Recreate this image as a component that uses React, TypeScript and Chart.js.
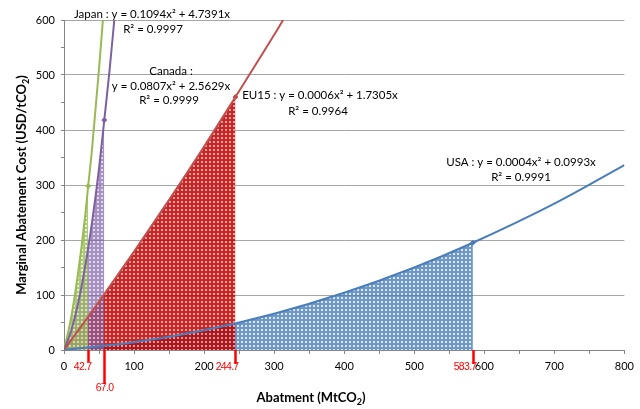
import React, { useEffect, useRef } from 'react';
import { Chart, registerables } from 'chart.js';
Chart.register(...registerables);

// Curves (abatement MtCO2 -> USD/tCO2)
const japanX = [0, 10, 20, 30, 34.5, 40, 50, 56];
const japanY = [0, 58, 139, 241, 298, 365, 511, 608];
const canadaX = [0, 10, 20, 30, 40, 50, 57.5, 65, 72];
const canadaY = [0, 34, 84, 150, 232, 330, 418, 508, 603];
const eu15X = [0, 50, 100, 150, 200, 244.7, 300, 315];
const eu15Y = [0, 88, 179, 273, 370, 460, 573, 605];
const usaX = [0, 100, 200, 300, 400, 500, 583.7, 700, 800];
const usaY = [0, 14, 36, 66, 104, 150, 195, 266, 336];

// Shaded limits (Japan, Canada, EU15, USA) and their red tick labels
const cutoffs = [34.5, 57.5, 244.7, 583.7];
const markLabels = ['42.7', '67.0', '244.7', '583.7'];

const equations = [
  ['Japan : y = 0.1094x² + 4.7391x', 'R² = 0.9997'],
  ['Canada :', 'y = 0.0807x² + 2.5629x', 'R² = 0.9999'],
  ['EU15 : y = 0.0006x² + 1.7305x', 'R² = 0.9964'],
  ['USA : y = 0.0004x² + 0.0993x', 'R² = 0.9991'],
];

const FONT = 'Lato, "Open Sans", "Noto Sans", sans-serif';

const mk = (xs: number[], ys: number[]) => xs.map((x, i) => ({ x, y: ys[i] }));
const upTo = (xs: number[], ys: number[], c: number) => mk(xs, ys).filter((p) => p.x <= c + 1e-9);

function makePattern(base: string, light: string) {
  const c = document.createElement('canvas');
  c.width = 4;
  c.height = 4;
  const g = c.getContext('2d')!;
  g.fillStyle = base;
  g.fillRect(0, 0, 4, 4);
  g.clearRect(1, 1, 2, 2);
  g.fillStyle = light;
  g.fillRect(1, 1, 2, 2);
  return g.createPattern(c, 'repeat')!;
}

function drawSub(ctx: CanvasRenderingContext2D, parts: [string, boolean][], x: number, y: number, size: number) {
  const normal = `bold ${size}px ${FONT}`;
  const small = `bold ${Math.round(size * 0.7)}px ${FONT}`;
  let total = 0;
  for (const [t, s] of parts) {
    ctx.font = s ? small : normal;
    total += ctx.measureText(t).width;
  }
  let cx = x - total / 2;
  ctx.textAlign = 'left';
  for (const [t, s] of parts) {
    ctx.font = s ? small : normal;
    ctx.fillText(t, cx, s ? y + size * 0.3 : y);
    cx += ctx.measureText(t).width;
  }
}

const textPlugin = {
  id: 'textPlugin',
  afterDraw(chart: any) {
    const ctx: any = chart.ctx;
    const xs = chart.scales.x;
    const area = chart.chartArea;
    ctx.save();
    ctx.fillStyle = '#000';
    ctx.font = `11.5px ${FONT}`;
    ctx.textAlign = 'center';
    ctx.textBaseline = 'middle';
    const eqPos = [
      [[152, 14.5], [153, 29]],
      [[171, 71], [171, 86], [169, 100]],
      [[320, 95], [318, 111]],
      [[521, 162.5], [521, 177]],
    ];
    equations.forEach((lines, i) => {
      lines.forEach((t, j) => {
        const [px, py] = eqPos[i][j];
        ctx.fillText(t, px, py);
      });
    });
    // red ticks
    const lens = [12, 34, 14, 14];
    ctx.strokeStyle = '#FF0000';
    ctx.lineWidth = 2.5;
    ctx.fillStyle = '#FF0000';
    ctx.font = `10.5px "Liberation Sans Narrow", "Arial Narrow", "Liberation Sans", sans-serif`;
    try {
      ctx.letterSpacing = '-0.7px';
    } catch (e) {}
    cutoffs.forEach((v, i) => {
      const px = Math.round(xs.getPixelForValue(v)) + 0.5;
      ctx.beginPath();
      ctx.moveTo(px, area.bottom);
      ctx.lineTo(px, area.bottom + lens[i]);
      ctx.stroke();
      if (i === 1) {
        ctx.textAlign = 'center';
        ctx.fillText(markLabels[i], px, area.bottom + 38);
      } else {
        ctx.textAlign = 'right';
        ctx.fillText(markLabels[i], px + 3, area.bottom + 17);
      }
    });
    try {
      ctx.letterSpacing = '0px';
    } catch (e) {}
    ctx.fillStyle = '#000';
    ctx.textBaseline = 'middle';
    drawSub(ctx, [['Abatment (MtCO', false], ['2', true], [')', false]], 311, 398, 13);
    ctx.translate(22, 185);
    ctx.rotate(-Math.PI / 2);
    drawSub(ctx, [['Marginal Abatement Cost (USD/tCO', false], ['2', true], [')', false]], 0, 0, 13);
    ctx.restore();
  },
};

export default function App() {
  const ref = useRef<HTMLCanvasElement>(null);
  useEffect(() => {
    const canvas = ref.current!;
    const green = makePattern('rgba(155,187,89,0.8)', 'rgba(215,232,190,0.6)');
    const purple = makePattern('rgba(128,100,162,0.7)', 'rgba(205,190,228,0.6)');
    const red = makePattern('rgba(192,0,0,0.85)', 'rgba(235,140,140,0.8)');
    const blue = makePattern('rgba(74,126,187,0.8)', 'rgba(200,215,240,0.6)');
    const lineDs = (xs: number[], ys: number[], color: string) => ({
      data: mk(xs, ys),
      borderColor: color,
      borderWidth: 2,
      pointRadius: 0,
      fill: false,
      cubicInterpolationMode: 'monotone',
      order: 1,
    });
    const fillDs = (xs: number[], ys: number[], c: number, pat: CanvasPattern, order: number) => ({
      data: upTo(xs, ys, c),
      borderWidth: 0,
      borderColor: 'rgba(0,0,0,0)',
      backgroundColor: pat,
      pointRadius: 0,
      fill: 'origin',
      cubicInterpolationMode: 'monotone',
      order,
    });
    const markerDs = (xs: number[], ys: number[], c: number, color: string) => ({
      data: mk(xs, ys).filter((p) => Math.abs(p.x - c) < 1e-9),
      showLine: false,
      pointStyle: 'rectRot',
      pointRadius: 2.5,
      pointBackgroundColor: color,
      pointBorderColor: color,
      borderColor: color,
      order: 0,
    });
    const chart = new Chart(canvas, {
      type: 'line',
      data: {
        datasets: [
          fillDs(usaX, usaY, cutoffs[3], blue, 10),
          fillDs(eu15X, eu15Y, cutoffs[2], red, 9),
          fillDs(canadaX, canadaY, cutoffs[1], purple, 8),
          fillDs(japanX, japanY, cutoffs[0], green, 7),
          lineDs(usaX, usaY, '#4A7EBB'),
          lineDs(eu15X, eu15Y, '#C0504D'),
          lineDs(canadaX, canadaY, '#7D60A0'),
          lineDs(japanX, japanY, '#98B954'),
          markerDs(usaX, usaY, cutoffs[3], '#4A7EBB'),
          markerDs(eu15X, eu15Y, cutoffs[2], '#C0504D'),
          markerDs(canadaX, canadaY, cutoffs[1], '#7D60A0'),
          markerDs(japanX, japanY, cutoffs[0], '#98B954'),
        ] as any,
      },
      options: {
        animation: false,
        responsive: false,
        maintainAspectRatio: false,
        layout: { padding: { top: 20, right: 13, left: 0, bottom: 0 } },
        plugins: { legend: { display: false }, tooltip: { enabled: false } },
        scales: {
          x: {
            type: 'linear',
            min: 0,
            max: 800,
            ticks: {
              stepSize: 50,
              autoSkip: false,
              maxRotation: 0,
              padding: 6,
              color: '#000',
              font: { family: FONT, size: 11 },
              callback: (v: any) => (Number(v) % 100 === 0 ? String(v) : ''),
            },
            grid: { drawOnChartArea: false, drawTicks: true, tickLength: 4, tickColor: '#868686' },
            border: { color: '#868686', width: 1 },
            afterFit: (s: any) => {
              s.height = 59;
            },
          },
          y: {
            type: 'linear',
            min: 0,
            max: 600,
            ticks: {
              stepSize: 50,
              autoSkip: false,
              padding: 6,
              color: '#000',
              font: { family: FONT, size: 11 },
              callback: (v: any) => (Number(v) % 100 === 0 ? String(v) : ''),
            },
            grid: {
              color: (c: any) => (c.tick && c.tick.value % 100 === 0 ? '#A6A6A6' : 'rgba(0,0,0,0)'),
              tickColor: '#868686',
              tickLength: 3,
            },
            border: { color: '#868686', width: 1 },
            afterFit: (s: any) => {
              s.width = 64;
            },
          },
        },
      } as any,
      plugins: [textPlugin],
    });
    return () => chart.destroy();
  }, []);
  return (
    <div style={{ position: 'fixed', left: 0, top: 0, width: 640, height: 409, background: '#fff' }}>
      <canvas ref={ref} width={640} height={409} style={{ display: 'block', width: 640, height: 409 }} />
    </div>
  );
}
